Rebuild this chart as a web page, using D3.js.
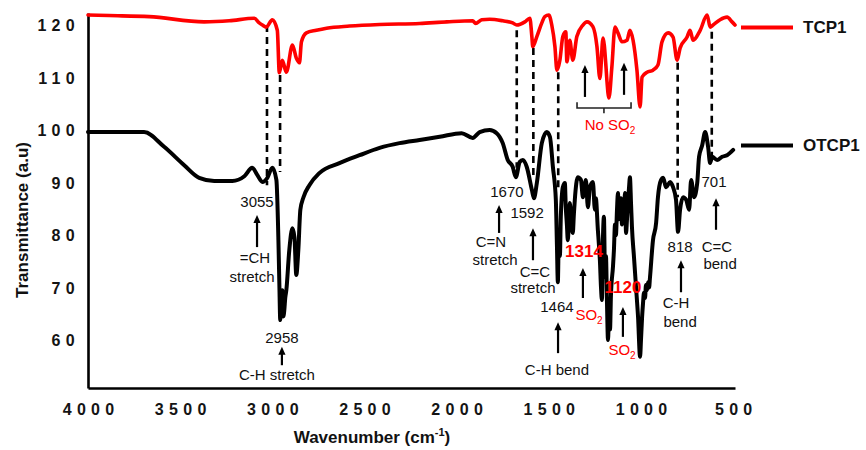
<!DOCTYPE html>
<html><head><meta charset="utf-8">
<script src="https://cdn.jsdelivr.net/npm/d3@7"></script>
<style>
body{margin:0;background:#fff}
svg{display:block}
text{font-family:"Liberation Sans",Arial,sans-serif}
</style>
</head><body>
<svg id="c" width="866" height="450"></svg>
<script>
// ---------- data ----------
const xTicks = [4000, 3500, 3000, 2500, 2000, 1500, 1000, 500];
const yTicks = [60, 70, 80, 90, 100, 110, 120];
const seriesNames = ["TCP1", "OTCP1"];

const tcp1Wn = [4000,3886,3668,3370,3234,3098,3071,3054,3033,3000,2973,2962,2946,2924,2891,2870,2853,2842,2815,2761,2706,2581,2418,2201,2054,1913,1897,1864,1821,1750,1696,1674,1630,1603,1592,1587,1565,1538,1522,1500,1484,1467,1456,1440,1424,1408,1402,1386,1370,1348,1315,1293,1261,1239,1223,1206,1190,1185,1174,1158,1141,1125,1103,1076,1060,1043,1022,1005,994,967,935,908,886,853,826,804,788,750,734,717,679,641,625,609,571,533,506,490];
const tcp1T  = [121.9,121.8,121.6,120.6,120.8,121.3,120.4,120.0,119.6,121.0,119.0,110.9,113.3,111.0,116.2,113.7,112.8,116.8,118.5,119.0,119.4,119.8,120.1,120.3,120.6,120.8,120.3,121.0,121.1,120.8,120.4,120.0,120.6,121.3,117.8,115.9,117.8,120.4,121.6,121.9,120.0,115.9,111.4,113.3,117.8,118.7,113.0,117.1,113.3,117.8,120.0,120.6,119.7,115.9,109.8,117.5,112.1,109.5,106.1,112.0,119.6,118.5,116.8,117.1,119.0,117.1,111.4,104.4,110.1,111.0,111.4,112.4,116.8,118.5,117.7,113.3,115.6,117.7,119.0,117.1,119.0,121.9,119.6,120.0,121.0,121.5,120.6,120.0];

const otcp1Wn = [4000,3886,3696,3587,3478,3397,3315,3217,3152,3109,3081,3054,3027,3000,2978,2967,2962,2957,2952,2946,2940,2935,2930,2924,2908,2891,2880,2870,2859,2848,2831,2799,2745,2636,2527,2418,2310,2201,2092,1973,1913,1875,1821,1783,1750,1723,1696,1679,1658,1641,1620,1592,1581,1565,1538,1511,1494,1478,1462,1456,1451,1446,1440,1435,1424,1413,1408,1402,1397,1391,1386,1375,1370,1364,1359,1343,1326,1315,1299,1288,1277,1261,1250,1245,1234,1228,1223,1217,1212,1206,1201,1195,1190,1185,1179,1174,1168,1163,1152,1147,1141,1136,1130,1125,1120,1114,1109,1103,1098,1092,1087,1081,1076,1071,1065,1060,1054,1049,1038,1027,1016,1005,1000,994,989,984,978,973,967,962,956,951,935,918,908,891,880,864,842,826,810,799,788,772,755,739,728,712,695,685,668,652,636,625,614,587,560,533,500];
const otcp1T  = [99.6,99.6,99.6,96.8,93.3,90.9,90.3,90.3,91.2,92.8,91.4,90.1,90.9,92.8,90.5,79.0,70.9,63.8,67.0,69.5,64.5,65.7,68.0,69.5,77.1,81.3,79.6,72.4,77.1,84.8,87.2,89.5,91.8,93.7,95.2,96.6,97.5,98.1,98.7,99.4,98.5,99.6,100.0,99.4,97.5,94.3,93.0,91.0,93.9,94.3,93.0,88.6,87.0,89.9,97.5,99.6,98.7,93.0,86.7,78.0,71.0,79.0,76.0,83.4,89.1,89.9,85.3,82.0,79.0,83.0,86.1,81.0,80.4,84.0,86.7,91.0,90.5,87.2,90.5,85.3,89.1,90.1,84.8,87.0,81.0,78.0,75.2,70.0,67.6,80.0,83.5,72.0,76.0,68.0,60.0,64.0,62.0,68.5,74.0,77.0,82.0,80.0,85.0,88.0,83.0,84.2,87.0,82.0,86.1,84.0,88.0,80.4,83.0,86.1,89.0,91.0,86.0,81.5,75.8,70.1,64.4,56.8,60.0,64.4,67.0,69.0,68.0,70.5,69.5,71.0,70.0,72.0,79.0,82.3,87.2,90.5,90.9,89.1,90.1,89.1,86.7,80.6,84.8,87.2,86.7,84.8,90.5,87.2,89.9,94.9,97.1,99.6,96.8,93.7,94.9,94.3,94.9,95.2,96.2];

// dashed guide lines: wavenumber, top value, bottom value
const dashWn  = [3029, 2958, 1674, 1584, 1449, 801, 616];
const dashTop = [120.0, 110.5, 119.0, 115.6, 111.0, 112.8, 118.7];
const dashBot = [89.5, 92.0, 92.8, 90.9, 88.6, 87.2, 93.9];

// ---------- layout ----------
const svg = d3.select("#c");
const x = d3.scaleLinear().domain([4000, 490]).range([88, 735]);
const y = d3.scaleLinear().domain([50.86, 122.29]).range([388, 13]);
const colors = {TCP1: "#ff0000", OTCP1: "#000000"};
const widths = {TCP1: 3.6, OTCP1: 4.0};
const FONT = '"Liberation Sans", Arial, sans-serif';

// axes
const gx = svg.append("g").attr("transform", "translate(0,388)")
  .call(d3.axisBottom(x).tickValues(xTicks).tickSize(0).tickPadding(0).tickFormat(d3.format("d")));
gx.select(".domain").attr("stroke", "#000").attr("stroke-width", 2.6);
gx.selectAll("text").attr("y", 27).attr("dy", 0)
  .attr("font-family", FONT).attr("font-size", 16).attr("font-weight", "bold")
  .attr("letter-spacing", "5.3px").attr("fill", "#141414")
  .attr("dx", "2.6px");

const gy = svg.append("g").attr("transform", "translate(88,0)")
  .call(d3.axisLeft(y).tickValues(yTicks).tickSize(0).tickPadding(0).tickFormat(d3.format("d")));
gy.select(".domain").attr("stroke", "#000").attr("stroke-width", 2.6);
gy.selectAll("text").attr("x", -8).attr("dy", "0.36em")
  .attr("font-family", FONT).attr("font-size", 16).attr("font-weight", "bold")
  .attr("letter-spacing", "5.3px").attr("fill", "#141414");

// axis titles
svg.append("text").attr("transform", "translate(28,220) rotate(-90)")
  .attr("text-anchor", "middle").attr("font-size", 17).attr("font-weight", "bold")
  .attr("fill", "#111").text("Transmittance (a.u)");
const xt = svg.append("text").attr("x", 372).attr("y", 443)
  .attr("text-anchor", "middle").attr("font-size", 17).attr("font-weight", "bold").attr("fill", "#111");
xt.append("tspan").text("Wavenumber (cm");
xt.append("tspan").attr("font-size", 11).attr("dy", -7).text("-1");
xt.append("tspan").attr("dy", 7).text(")");

// dashed lines
svg.append("g").selectAll("line").data(dashWn).join("line")
  .attr("x1", d => x(d)).attr("x2", d => x(d))
  .attr("y1", (d, i) => y(dashTop[i])).attr("y2", (d, i) => y(dashBot[i]))
  .attr("stroke", "#000").attr("stroke-width", 2.6).attr("stroke-dasharray", "7,5");

// spectra
const line = d3.line().x(d => x(d[0])).y(d => y(d[1])).curve(d3.curveMonotoneX);
const series = [
  {name: "TCP1", pts: d3.zip(tcp1Wn, tcp1T)},
  {name: "OTCP1", pts: d3.zip(otcp1Wn, otcp1T)}
];
svg.append("g").selectAll("path").data(series).join("path")
  .attr("d", d => line(d.pts)).attr("fill", "none")
  .attr("stroke", d => colors[d.name]).attr("stroke-width", d => widths[d.name])
  .attr("stroke-linejoin", "round").attr("stroke-linecap", "round");

// legend
const legY = [27.5, 145.5];
const lg = svg.append("g").selectAll("g").data(seriesNames).join("g")
  .attr("transform", (d, i) => `translate(741,${legY[i]})`);
lg.append("line").attr("x1", 0).attr("x2", 52).attr("stroke", d => colors[d]).attr("stroke-width", 4);
lg.append("text").attr("x", 62).attr("dy", "0.35em").attr("font-size", 17).attr("font-weight", "bold")
  .attr("fill", "#111").text(d => d);

// annotations (anchored in data coordinates)
const notes = [
  {t: "3055", w: 3083, v: 85.3}, {t: "=CH", w: 3094, v: 74.7}, {t: "stretch", w: 3110, v: 71.0},
  {t: "2958", w: 2948, v: 59.4}, {t: "C-H stretch", w: 2975, v: 52.4},
  {t: "1670", w: 1727, v: 87.2}, {t: "C=N", w: 1814, v: 77.7}, {t: "stretch", w: 1792, v: 74.3},
  {t: "1592", w: 1618, v: 83.2}, {t: "C=C", w: 1575, v: 72.0}, {t: "stretch", w: 1586, v: 69.0},
  {t: "1464", w: 1456, v: 65.3}, {t: "C-H bend", w: 1456, v: 53.3},
  {t: "1314", w: 1309, v: 75.8, red: true, big: true}, {t: "SO", sub: "2", w: 1282, v: 63.8, red: true},
  {t: "1120", w: 1098, v: 69.0, red: true, big: true}, {t: "SO", sub: "2", w: 1103, v: 57.1, red: true},
  {t: "818", w: 788, v: 76.8}, {t: "C-H", w: 810, v: 66.1}, {t: "bend", w: 788, v: 62.5},
  {t: "C=C", w: 588, v: 76.8}, {t: "bend", w: 571, v: 73.5}, {t: "701", w: 604, v: 89.1},
  {t: "No SO", sub: "2", w: 1168, v: 100.0, red: true}
];
const nt = svg.append("g").selectAll("text").data(notes).join("text")
  .attr("x", d => x(d.w)).attr("y", d => y(d.v)).attr("text-anchor", "middle")
  .attr("font-size", d => d.big ? 17 : 15).attr("font-weight", d => d.big ? "bold" : "normal")
  .attr("fill", d => d.red ? "#ff0000" : "#111");
nt.append("tspan").text(d => d.t);
nt.filter(d => d.sub).append("tspan").attr("font-size", 10).attr("dy", 4).text(d => d.sub);

// arrows: wavenumber, head value, tail value
const arrows = [
  [3083, 83.8, 77.7], [2948, 58.7, 55.2], [1770, 85.7, 80.4], [1586, 81.3, 75.2],
  [1450, 63.4, 57.5], [1315, 73.7, 68.0], [1098, 66.3, 60.6], [783, 75.2, 69.1],
  [593, 87.0, 81.0], [1304, 112.4, 106.3], [1092, 112.8, 106.7]
];
const ag = svg.append("g").selectAll("g").data(arrows).join("g");
ag.append("line").attr("x1", d => x(d[0])).attr("x2", d => x(d[0]))
  .attr("y1", d => y(d[1]) + 6).attr("y2", d => y(d[2]))
  .attr("stroke", "#000").attr("stroke-width", 2.2);
ag.append("path").attr("d", d => {
  const px = x(d[0]), py = y(d[1]);
  return `M${px},${py}L${px - 3.6},${py + 8}L${px + 3.6},${py + 8}Z`;
}).attr("fill", "#000");

// bracket under "No SO2"
const br = {w0: 1347, w1: 1054, wm: 1201, v: 104.2, vEnd: 105.3, vTip: 103.2};
svg.append("path")
  .attr("d", `M${x(br.w0)},${y(br.vEnd)}L${x(br.w0)},${y(br.v)}L${x(br.w1)},${y(br.v)}L${x(br.w1)},${y(br.vEnd)}M${x(br.wm)},${y(br.v)}L${x(br.wm)},${y(br.vTip)}`)
  .attr("fill", "none").attr("stroke", "#222").attr("stroke-width", 1.6);
</script>
</body></html>
